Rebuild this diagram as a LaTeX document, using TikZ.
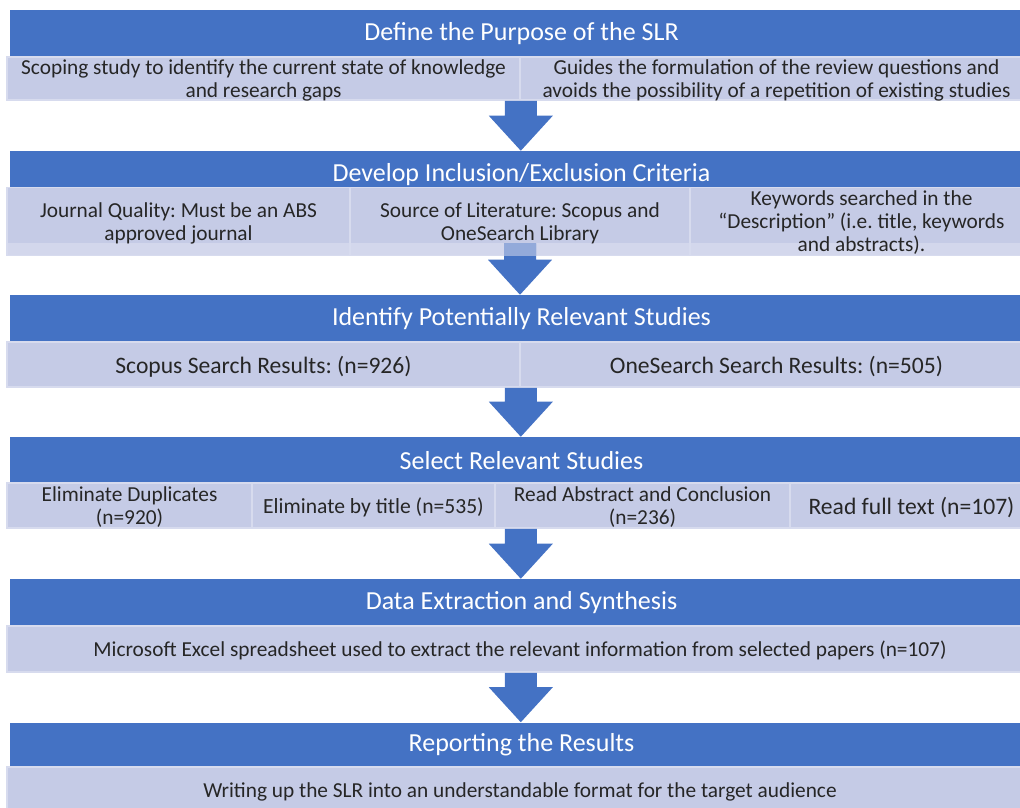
\documentclass[tikz,border=0pt]{standalone}
\usepackage{fontspec}
\setmainfont{Carlito}
\frenchspacing
\usetikzlibrary{calc}

\definecolor{headblue}{HTML}{4472C4}
\definecolor{cellfill}{HTML}{C5CBE6}
\definecolor{cellline}{HTML}{D7DBEE}
\definecolor{bandfill}{HTML}{D3D7EC}
\definecolor{ink}{HTML}{262626}

% block arrow from #1 (top of shaft) to #2 (tip)
\newcommand{\flowto}[2]{%
  \fill[headblue] ($(#1)+(-16,0)$) -- ($(#2)+(-16,-35)$) -- ($(#2)+(-32,-35)$) -- (#2)
    -- ($(#2)+(32,-35)$) -- ($(#2)+(16,-35)$) -- ($(#1)+(16,0)$) -- cycle;}

\begin{document}
\begin{tikzpicture}[x=0.75pt,y=-0.75pt,
    head/.style={fill=headblue,text=white,inner sep=0pt,minimum width={1023*0.75pt},
      minimum height={48*0.75pt},font=\fontsize{19.5}{22}\selectfont},
    cell/.style 2 args={fill=cellfill,draw=cellline,line width=1.2pt,text=ink,inner sep=0pt,
      align=center,minimum width={#1*0.75pt},minimum height={#2*0.75pt},text depth=0pt,
      font=\fontsize{16}{17.25}\selectfont},
    band/.style={path picture={\fill[bandfill] (path picture bounding box.south west)
      rectangle ([yshift=9.75pt]path picture bounding box.south east);}}]
	\useasboundingbox (0,0) rectangle (1020,807);
	\clip (0,0) rectangle (1020,807);

	% step 1
	\node[head] (h1) at (521.5,34) {Define the Purpose of the SLR};
	\node[cell={513}{43}] (r1a) at (263.5,78.5) {Scoping study to identify the current state of knowledge\\and research gaps};
	\node[cell={513}{43}] (r1b) at (776.5,78.5) {Guides the formulation of the review questions and\\avoids the possibility of a repetition of existing studies};

	% step 2
	\node[head] (h2) at (521.5,175) {Develop Inclusion/Exclusion Criteria};
	\node[cell={343}{68},band] (r2a) at (178.5,221.5) {Journal Quality: Must be an ABS\\approved journal};
	\node[cell={340}{68},band] (r2b) at (520,221.5) {Source of Literature: Scopus and\\OneSearch Library};
	\node[cell={343}{68},band] (r2c) at (861.5,221.5) {Keywords searched in the\\``Description'' (i.e. title, keywords\\and abstracts).};

	% step 3
	\node[head] (h3) at (521.5,319) {Identify Potentially Relevant Studies};
	\node[cell={513}{45},font=\fontsize{17.7}{20}\selectfont] (r3a) at (263.5,364.5) {Scopus Search Results: (n=926)};
	\node[cell={513}{45},font=\fontsize{17.7}{20}\selectfont] (r3b) at (776.5,364.5) {OneSearch Search Results: (n=505)};

	% step 4
	\node[head] (h4) at (521.5,461) {Select Relevant Studies};
	\node[cell={245}{45}] (r4a) at (129.5,505.5) {Eliminate Duplicates\\(n=920)};
	\node[cell={243}{45},font=\fontsize{16.2}{18}\selectfont] (r4b) at (373.5,505.5) {Eliminate by title (n=535)};
	\node[cell={295}{45}] (r4c) at (642.5,505.5) {Read Abstract and Conclusion\\(n=236)};
	\node[cell={243}{45},font=\fontsize{17.7}{20}\selectfont] (r4d) at (911.5,505.5) {Read full text (n=107)};

	% step 5
	\node[head] (h5) at (521.5,603) {Data Extraction and Synthesis};
	\node[cell={1026}{46}] (r5) at (520,649) {Microsoft Excel spreadsheet used to extract the relevant information from selected papers (n=107)};

	% step 6
	\node[head,minimum height={45*0.75pt}] (h6) at (521.5,745) {Reporting the Results};
	\node[cell={1026}{46}] (r6) at (520,790) {Writing up the SLR into an understandable format for the target audience};

	% arrows between the steps
	\coordinate (a1) at (r1a.south east);
	\coordinate (a2) at ([yshift=9.75pt]r2b.south);
	\coordinate (a3) at (r3a.south east);
	\coordinate (a4) at (a1 |- r4a.south);
	\coordinate (a5) at (a1 |- r5.south);
	\flowto{a1}{a1 |- h2.north}
	\flowto{a2}{a2 |- h3.north}
	\flowto{a3}{a3 |- h4.north}
	\flowto{a4}{a4 |- h5.north}
	\flowto{a5}{a5 |- h6.north}
	\fill[headblue!45!bandfill] ($(a2)+(-16,0)$) rectangle ($(a2)+(16,13)$);
\end{tikzpicture}
\end{document}
